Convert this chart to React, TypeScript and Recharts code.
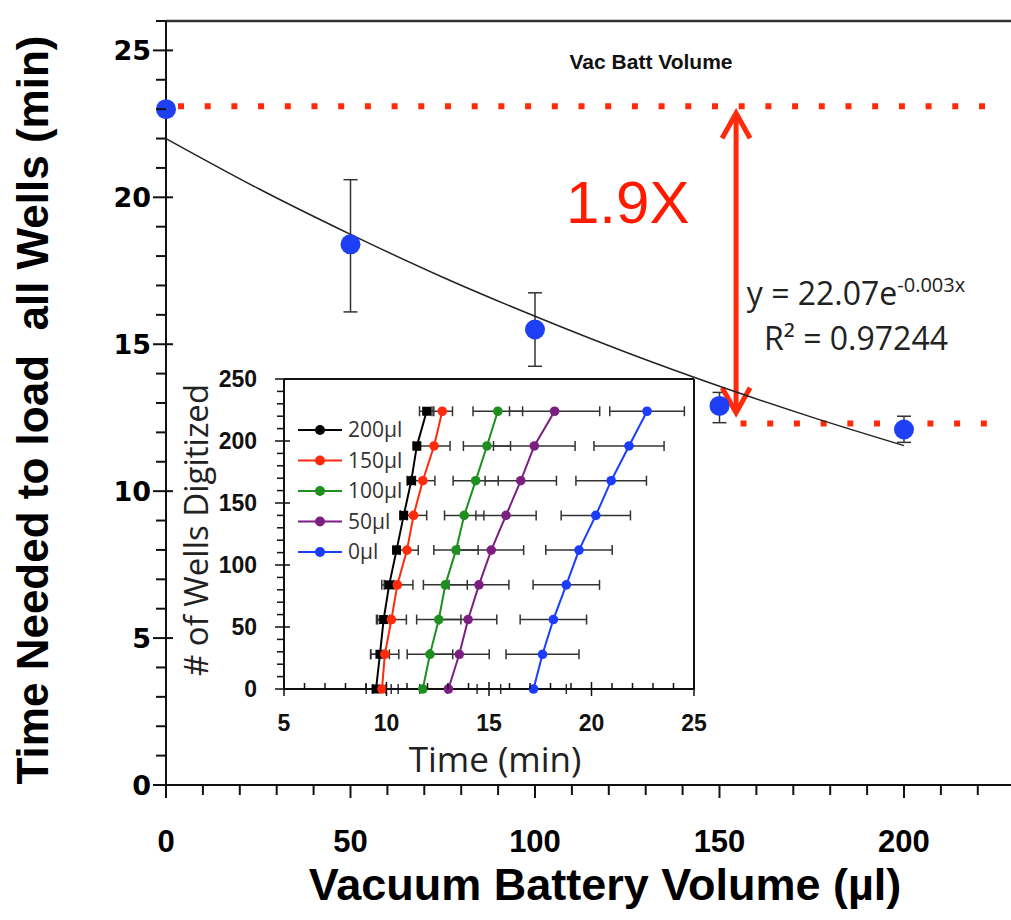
import React from "react";
import { ScatterChart, Scatter, XAxis, YAxis, ErrorBar, ReferenceLine, CartesianGrid, Legend } from "recharts";

// main chart: time to load all wells vs vacuum battery volume
const volumes = [0, 50, 100, 150, 200];
const loadTimes = [23.0, 18.4, 15.5, 12.9, 12.1];
const loadErrLow = [0, 2.3, 1.25, 0.57, 0.44];
const loadErrHigh = [0, 2.2, 1.25, 0.46, 0.45];

// exponential trendline
const fitVolumes = [0, 25, 50, 75, 100, 125, 150, 175, 200];
const fitTimes = [22.0, 20.3, 18.74, 17.28, 15.95, 14.71, 13.57, 12.52, 11.55];

const mainXLabels = [0, 50, 100, 150, 200];
const mainYLabels = [0, 5, 10, 15, 20, 25];
const mainXTicks = Array.from({ length: 23 }, (_, i) => i * 10);
const mainYTicks = Array.from({ length: 27 }, (_, i) => i);

// annotation levels
const topLevel = 23.1;
const bottomLevel = 12.3;
const arrowVolume = 154.5;
const arrowTop = 22.93;
const arrowBottom = 12.6;

// inset: wells digitized vs time, per battery volume
const wellCounts = [0, 28, 56, 84, 112, 140, 168, 196, 224];
const seriesNames = ["200µl", "150µl", "100µl", "50µl", "0µl"];
const seriesColors = ["#000000", "#ff2a0a", "#1f8f1f", "#7d1f80", "#1a3dff"];
const t200 = [9.49, 9.68, 9.86, 10.13, 10.49, 10.84, 11.21, 11.48, 11.96];
const t150 = [9.78, 9.92, 10.24, 10.53, 11.0, 11.32, 11.77, 12.32, 12.72];
const t100 = [11.77, 12.12, 12.55, 12.87, 13.39, 13.79, 14.35, 14.9, 15.43];
const t50 = [13.02, 13.55, 13.98, 14.51, 15.11, 15.83, 16.55, 17.21, 18.2];
const t0 = [17.17, 17.61, 18.14, 18.77, 19.39, 20.21, 20.96, 21.83, 22.71];
const e200 = [0.48, 0.46, 0.29, 0.24, 0.15, 0.16, 0.2, 0.16, 0.35];
const e150 = [0.45, 0.68, 0.73, 0.76, 0.55, 0.64, 0.59, 0.78, 0.5];
const e100 = [1.2, 1.11, 1.08, 1.07, 1.08, 0.96, 1.1, 1.15, 1.21];
const e50 = [1.4, 1.46, 1.4, 1.46, 1.58, 1.47, 1.74, 1.99, 2.2];
const e0 = [1.6, 1.78, 1.62, 1.62, 1.62, 1.69, 1.72, 1.71, 1.82];

const insetXLabels = [5, 10, 15, 20, 25];
const insetYLabels = [0, 50, 100, 150, 200, 250];
const insetXTicks = Array.from({ length: 21 }, (_, i) => 5 + i);
const insetYTicks = Array.from({ length: 26 }, (_, i) => i * 10);

const RED = "#ff2a0a";
const BOLD_FONT = "'Liberation Sans', Arial, sans-serif";
const TEXT_FONT = "'Open Sans', 'Noto Sans', sans-serif";

const mainData = volumes.map((x, i) => ({ x, y: loadTimes[i], err: [loadErrLow[i], loadErrHigh[i]] }));
const fitData = fitVolumes.map((x, i) => ({ x, y: fitTimes[i] }));
const insetTimes = [t200, t150, t100, t50, t0];
const insetErrs = [e200, e150, e100, e50, e0];
const insetSeries = seriesNames.map((name, s) => ({
  name,
  color: seriesColors[s],
  data: wellCounts.map((n, i) => ({ t: insetTimes[s][i], n, e: insetErrs[s][i] }))
}));

const MainXTick = (props: any) => {
  const { x, y, payload } = props;
  const v = payload.value;
  const major = mainXLabels.includes(v);
  return (
    <g>
      <line x1={x} x2={x} y1={v === 0 ? y - 8 : y} y2={y + (major ? 13 : 10)} stroke="#111" strokeWidth={2} />
      {major && (
        <text x={x} y={y + 67} textAnchor="middle" fontFamily={BOLD_FONT} fontWeight="bold" fontSize={31} fill="#000">
          {v}
        </text>
      )}
    </g>
  );
};

const MainYTick = (props: any) => {
  const { x, y, payload } = props;
  const v = payload.value;
  const major = mainYLabels.includes(v);
  return (
    <g>
      <line x1={x - (major ? 13 : 10)} x2={major ? x + 7 : x} y1={y} y2={y} stroke="#111" strokeWidth={2} />
      {major && (
        <text x={x - 15} y={y} dy="0.36em" textAnchor="end" fontFamily="'DejaVu Sans', sans-serif" fontWeight="bold" fontSize={27} fill="#000">
          {v}
        </text>
      )}
    </g>
  );
};

const InsetXTick = (props: any) => {
  const { x, y, payload } = props;
  const v = payload.value;
  const major = insetXLabels.includes(v);
  return (
    <g>
      <line x1={x} x2={x} y1={y - (major ? 7 : 6)} y2={major ? y + 7 : y} stroke="#111" strokeWidth={1.5} />
      {major && (
        <text x={x} y={y + 42} textAnchor="middle" fontFamily={BOLD_FONT} fontWeight="bold" fontSize={23} fill="#111">
          {v}
        </text>
      )}
    </g>
  );
};

const InsetYTick = (props: any) => {
  const { x, y, payload } = props;
  const v = payload.value;
  const major = insetYLabels.includes(v);
  return (
    <g>
      <line x1={x - (major ? 9 : 7)} x2={major ? x + 6 : x} y1={y} y2={y} stroke="#111" strokeWidth={1.5} />
      {major && (
        <text x={x - 27} y={y} dy="0.36em" textAnchor="end" fontFamily={BOLD_FONT} fontWeight="bold" fontSize={23} fill="#111">
          {v}
        </text>
      )}
    </g>
  );
};

const BigDot = (props: any) => <circle cx={props.cx} cy={props.cy} r={10} fill="#1f3ff5" />;
const NoDot = () => <g />;

const ArrowShape = (p: any) => {
  const x = p.x1;
  const top = Math.min(p.y1, p.y2);
  const bot = Math.max(p.y1, p.y2);
  return (
    <g stroke={RED} strokeWidth={5} fill="none">
      <line x1={x} x2={x} y1={top + 3} y2={bot - 3} />
      <polyline points={`${x - 14},${top + 27} ${x},${top + 2} ${x + 14},${top + 27}`} />
      <polyline points={`${x - 14},${bot - 27} ${x},${bot - 2} ${x + 14},${bot - 27}`} />
    </g>
  );
};

const insetDot = (color: string, square: boolean) => (props: any) =>
  square ? (
    <rect x={props.cx - 4.5} y={props.cy - 4.5} width={9} height={9} fill={color} />
  ) : (
    <circle cx={props.cx} cy={props.cy} r={4.8} fill={color} />
  );

// legend drawn in series order (Recharts would sort it by name)
const InsetLegend = () => (
  <svg width={150} height={170}>
    {seriesNames.map((name, i) => {
      const cy = 16 + i * 30.5;
      const color = seriesColors[i];
      return (
        <g key={name}>
          <line x1={6} x2={50} y1={cy} y2={cy} stroke={color} strokeWidth={2} />
          <circle cx={28} cy={cy} r={5} fill={color} />
          <text x={56} y={cy} dy="0.35em" fontFamily={TEXT_FONT} fontSize={21} fill="#333">
            {name}
          </text>
        </g>
      );
    })}
  </svg>
);

export default function App() {
  return (
    <div style={{ position: "relative", width: 1011, height: 920, background: "#fff" }}>
      <style>{"body{margin:0}"}</style>
      <ScatterChart width={1011} height={920} margin={{ top: 21, right: 0, bottom: 0, left: 66 }}>
        <XAxis
          type="number"
          dataKey="x"
          domain={[0, 229]}
          ticks={mainXTicks}
          interval={0}
          tick={<MainXTick />}
          tickLine={false}
          tickSize={0}
          tickMargin={0}
          height={135}
          axisLine={{ stroke: "#111", strokeWidth: 2 }}
        />
        <YAxis
          type="number"
          dataKey="y"
          domain={[0, 26]}
          ticks={mainYTicks}
          interval={0}
          tick={<MainYTick />}
          tickLine={false}
          tickSize={0}
          tickMargin={0}
          width={100}
          axisLine={{ stroke: "#111", strokeWidth: 2 }}
        />
        <ReferenceLine y={26} stroke="#333" strokeWidth={2.5} />
        <ReferenceLine
          segment={[{ x: 3.25, y: topLevel }, { x: 222.8, y: topLevel }]}
          stroke={RED}
          strokeWidth={6}
          strokeDasharray="6 20.7"
        />
        <ReferenceLine
          segment={[{ x: 155.7, y: bottomLevel }, { x: 222.8, y: bottomLevel }]}
          stroke={RED}
          strokeWidth={6}
          strokeDasharray="6 20.7"
        />
        <Scatter
          data={fitData}
          shape={NoDot}
          line={{ stroke: "#222", strokeWidth: 1.5 }}
          lineJointType="monotoneX"
          isAnimationActive={false}
        />
        <Scatter data={mainData} fill="#1f3ff5" shape={BigDot} isAnimationActive={false}>
          <ErrorBar dataKey="err" direction="y" stroke="#333" strokeWidth={1.5} width={7} />
        </Scatter>
        <ReferenceLine
          segment={[{ x: arrowVolume, y: arrowTop }, { x: arrowVolume, y: arrowBottom }]}
          shape={ArrowShape}
        />
      </ScatterChart>

      <svg width={1011} height={920} style={{ position: "absolute", left: 0, top: 0, pointerEvents: "none" }}>
        <text x={651} y={69} textAnchor="middle" fontFamily={BOLD_FONT} fontWeight="bold" fontSize={21} fill="#111">
          Vac Batt Volume
        </text>
        <text x={566} y={223} fontFamily={BOLD_FONT} fontSize={60} fill="#ff1a00">
          1.9X
        </text>
        <text x={856} y={305} textAnchor="middle" fontFamily={TEXT_FONT} fontSize={32} fill="#222">
          y = 22.07e<tspan fontSize={20} dy={-13}>-0.003x</tspan>
        </text>
        <text x={856} y={350} textAnchor="middle" fontFamily={TEXT_FONT} fontSize={32} fill="#222">
          R² = 0.97244
        </text>
        <text
          x={48}
          y={410}
          transform="rotate(-90 48 410)"
          textAnchor="middle"
          fontFamily={BOLD_FONT}
          fontWeight="bold"
          fontSize={44}
          fill="#000"
          style={{ whiteSpace: "pre" }}
        >
          {"Time Needed to load  all Wells (min)"}
        </text>
        <text x={605} y={900} textAnchor="middle" fontFamily={BOLD_FONT} fontWeight="bold" fontSize={45} fill="#000">
          Vacuum Battery Volume (µl)
        </text>
        <text
          x={208}
          y={530}
          transform="rotate(-90 208 530)"
          textAnchor="middle"
          fontFamily={TEXT_FONT}
          fontSize={33}
          fill="#222"
        >
          # of Wells Digitized
        </text>
        <text x={495} y={772} textAnchor="middle" fontFamily={TEXT_FONT} fontSize={35} fill="#222">
          Time (min)
        </text>
      </svg>

      <div style={{ position: "absolute", left: 180, top: 360 }}>
        <ScatterChart width={540} height={410} margin={{ top: 19, right: 26, bottom: 0, left: 0 }}>
          <CartesianGrid horizontal={false} vertical={false} fill="#fff" />
          <XAxis
            type="number"
            dataKey="t"
            domain={[5, 25]}
            ticks={insetXTicks}
            interval={0}
            tick={<InsetXTick />}
            tickLine={false}
            tickSize={0}
            tickMargin={0}
            height={81}
            axisLine={{ stroke: "#111", strokeWidth: 2 }}
          />
          <YAxis
            type="number"
            dataKey="n"
            domain={[0, 250]}
            ticks={insetYTicks}
            interval={0}
            tick={<InsetYTick />}
            tickLine={false}
            tickSize={0}
            tickMargin={0}
            width={104}
            axisLine={{ stroke: "#111", strokeWidth: 2 }}
          />
          <ReferenceLine y={250} stroke="#111" strokeWidth={2} />
          <ReferenceLine x={25} stroke="#111" strokeWidth={2} />
          {insetSeries.map((s, i) => (
            <Scatter
              key={s.name}
              name={s.name}
              data={s.data}
              fill={s.color}
              shape={insetDot(s.color, i === 0)}
              line={{ stroke: s.color, strokeWidth: 2 }}
              lineJointType="linear"
              isAnimationActive={false}
            >
              <ErrorBar dataKey="e" direction="x" stroke="#333" strokeWidth={1.5} width={5} />
            </Scatter>
          ))}
          <Legend
            layout="vertical"
            align="center"
            verticalAlign="middle"
            content={<InsetLegend />}
            wrapperStyle={{ left: 112, top: 54, width: 150, height: 170 }}
          />
        </ScatterChart>
      </div>
    </div>
  );
}
